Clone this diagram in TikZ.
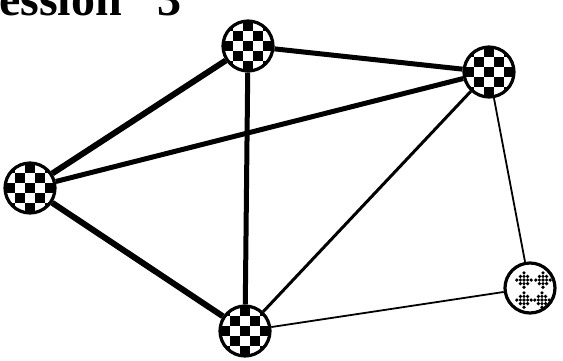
\documentclass[tikz,border=0pt]{standalone}
\usepackage{fontspec}
\setmainfont{Liberation Serif}
\usetikzlibrary{backgrounds}
\begin{document}
\begin{tikzpicture}[x=1pt,y=1pt,
  chk/.style={circle,draw=black,line width=3.2pt,fill=white,inner sep=0pt,minimum size=50pt,
    path picture={
      \foreach \i in {-3,...,3}{\foreach \j in {-3,...,3}{
        \pgfmathtruncatemacro\k{mod(\i+\j+6,2)}
        \ifnum\k=0
          \fill[black] ([xshift=\i*10pt-5pt,yshift=\j*10pt-5pt]path picture bounding box.center) rectangle ++(10pt,10pt);
        \fi}}
    }},
  dith/.style={circle,draw=black,line width=3.2pt,fill=white,inner sep=0pt,minimum size=50pt,
    path picture={
      \foreach \dx/\dy in {-6/8,13/8,-6/-12,12/-12}{
        \foreach \i in {0,...,4}{\foreach \j in {0,...,4}{
          \pgfmathtruncatemacro\k{mod(\i+\j,2)}
          \ifnum\k=0
            \pgfmathsetmacro\u{(\i-2)*1.8-(\j-2)*1.8+\dx}
            \pgfmathsetmacro\v{(\i-2)*1.8+(\j-2)*1.8+\dy-1.8}
            \fill[black] ([xshift=\u pt,yshift=\v pt]path picture bounding box.center)
              -- ++(1.8pt,1.8pt) -- ++(-1.8pt,1.8pt) -- ++(-1.8pt,-1.8pt) -- cycle;
          \fi}}}
    }},
  heavy/.style={line width=6pt},
  medium/.style={line width=3pt},
  thin/.style={line width=1.8pt}]
\useasboundingbox (0,0) rectangle (563,-360);
\clip (0,0) rectangle (563,-360);
\node[anchor=base west,inner sep=0pt,font=\bfseries\fontsize{48}{48}\selectfont] (title) at (-1,-15) {ession\hspace{36pt}3};
\node[chk] (T) at (248,-46) {};
\node[chk] (L) at (30,-188) {};
\node[chk] (R) at (489,-72) {};
\node[chk] (B) at (245,-331) {};
\node[dith] (BR) at (530,-288) {};
\begin{scope}[on background layer]
\draw[heavy] (T) -- (L);
\draw[line width=5pt] (T) -- (B);
\draw[line width=5pt] (T) -- (R);
\draw[line width=5pt] (L) -- (R);
\draw[heavy] (L) -- (B);
\draw[medium] (B) -- (R);
\draw[thin] (R) -- (BR);
\draw[thin] (B) -- (BR);
\end{scope}
\end{tikzpicture}
\end{document}
